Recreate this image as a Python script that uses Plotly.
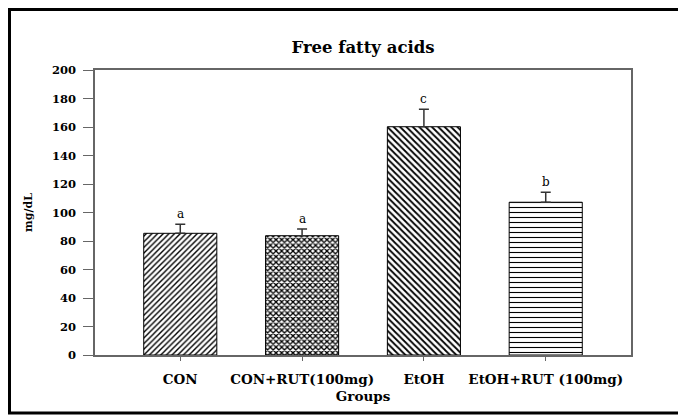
import plotly.graph_objects as go

groups = ["CON", "CON+RUT(100mg)", "EtOH", "EtOH+RUT (100mg)"]
means = [85.4, 83.7, 160.2, 107.2]
errors = [6.3, 4.7, 12.2, 7.0]
letters = ["a", "a", "c", "b"]
patterns = ["/", "x", "\\", "-"]
pattern_sizes = [4, 4, 4.5, 5]
pattern_solidity = [0.35, 0.55, 0.4, 0.22]

FONT = "DejaVu Serif"
OFF = 8  # page body margin offset
W, H = 686 - OFF, 415 - OFF
L, R, T, B = 95 - OFF, 686 - 631, 70 - OFF, 415 - 355
PW, PH = W - L - R, H - T - B

fig = go.Figure()
for i, g in enumerate(groups):
    fig.add_trace(go.Bar(
        x=[g], y=[means[i]], width=0.6,
        marker=dict(
            color="white",
            line=dict(color="black", width=1),
            pattern=dict(shape=patterns[i], size=pattern_sizes[i],
                         solidity=pattern_solidity[i], fgcolor="black",
                         bgcolor="white", fillmode="replace"),
        ),
        error_y=dict(type="data", symmetric=False, array=[errors[i]], arrayminus=[0],
                     color="#333333", thickness=1.5, width=5),
        showlegend=False,
    ))
    fig.add_annotation(x=g, y=means[i] + errors[i], text=letters[i], showarrow=False,
                       yanchor="bottom", yshift=1,
                       font=dict(family=FONT, size=12, color="black"))

fig.update_layout(
    width=W, height=H,
    margin=dict(l=L, r=R, t=T, b=B),
    paper_bgcolor="white", plot_bgcolor="white",
    title=dict(text="<b>Free fatty acids</b>", x=(L + PW / 2) / W, xanchor="center",
               y=1 - (47 - OFF) / H, yanchor="middle",
               font=dict(family=FONT, size=16.5, color="black")),
)
fig.update_xaxes(
    range=[-0.7, 3.7], showline=True, linecolor="#666666", linewidth=1.5, mirror=True,
    ticks="outside", ticklen=4, tickcolor="#666666", showgrid=False,
    ticklabelstandoff=7,
    tickfont=dict(family=FONT, size=13.5, color="black"),
    tickvals=groups, ticktext=["<b>%s</b>" % g for g in groups],
    title=dict(text="<b>Groups</b>", font=dict(family=FONT, size=13.5, color="black"), standoff=6),
)
fig.update_yaxes(
    range=[0, 200], tickvals=list(range(0, 201, 20)),
    ticktext=["<b>%d</b>" % v for v in range(0, 201, 20)],
    showline=True, linecolor="#666666", linewidth=1.5, mirror=True,
    ticks="outside", ticklen=10, tickcolor="#666666", showgrid=False, zeroline=False,
    ticklabelstandoff=5,
    tickfont=dict(family=FONT, size=11.5, color="black"),
    title=dict(text="<b>mg/dL</b>", font=dict(family=FONT, size=11, color="black"), standoff=17),
)
# outer border of the figure panel
fig.add_shape(type="rect", xref="paper", yref="paper",
              x0=(1.5 - L) / PW, x1=(684 - OFF - L) / PW,
              y0=-(413 - 355) / PH, y1=(PH + T - 1.5) / PH,
              line=dict(color="black", width=3), fillcolor="rgba(0,0,0,0)", layer="below")

fig.write_html("out.html")
